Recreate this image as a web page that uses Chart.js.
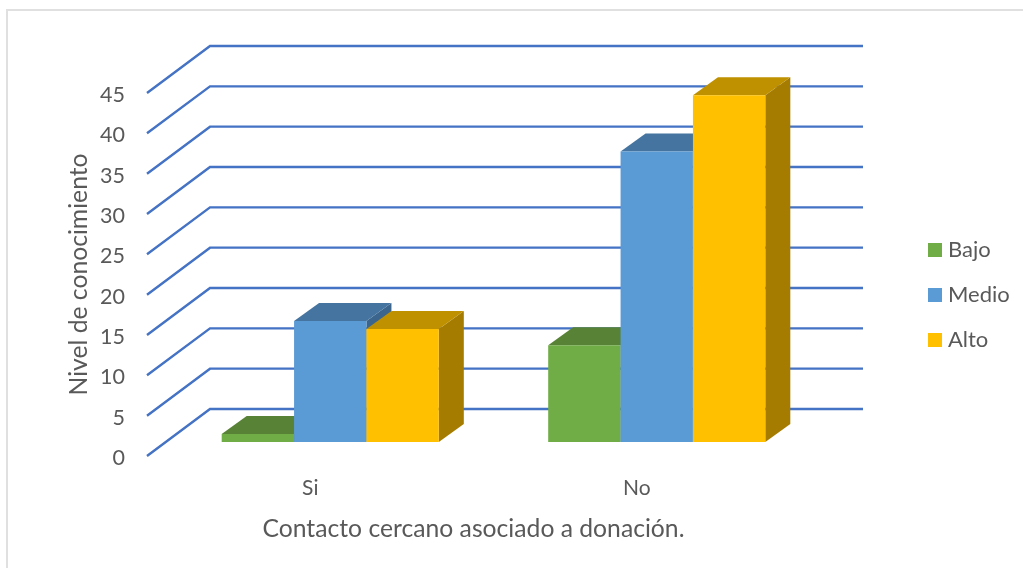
<!DOCTYPE html>
<html>
<head>
<meta charset="utf-8">
<script src="https://cdn.jsdelivr.net/npm/chart.js@4"></script>
<style>
  html, body { margin: 0; background: #fff; overflow: hidden; }
  #frame { position: absolute; left: 6px; top: 9px; width: 1100px; height: 700px; border: 2px solid #e0e0e0; }
  canvas { position: absolute; left: 0; top: 0; }
</style>
</head>
<body>
<div id="frame"></div>
<canvas id="myChart" width="1023" height="568"></canvas>
<script>
const categories = ["Si", "No"];
const bajo = [1, 12];
const medio = [15, 36];
const alto = [14, 43];

const textColor = "#595959";
const fontName = "Lato";
const gridColor = "#4472C4";

// depth of the side wall and of the bars, in pixels
const wallDepth = { x: 63, y: -47 };
const barShift = { x: 20, y: -14 };
const barDepth = { x: 25, y: -18 };

const face = (ctx, color, pts) => {
  ctx.fillStyle = color;
  ctx.beginPath();
  pts.forEach((p, i) => (i ? ctx.lineTo(p[0], p[1]) : ctx.moveTo(p[0], p[1])));
  ctx.closePath();
  ctx.fill();
};

const swatch = (color) => {
  const c = document.createElement("canvas");
  c.width = 14;
  c.height = 14;
  const g = c.getContext("2d");
  g.fillStyle = color;
  g.fillRect(0, 0, 14, 14);
  return c;
};

const fake3d = {
  id: "fake3d",
  afterLayout(chart) {
    // legend sits right of the back wall
    const lg = chart.legend;
    lg.left = 910;
    lg.right = 1023;
    lg.top = 208;
    lg.bottom = 382;
  },
  beforeDatasetsDraw(chart) {
    const { ctx, scales: { x, y } } = chart;
    ctx.save();
    ctx.strokeStyle = gridColor;
    ctx.lineWidth = 2.4;
    y.ticks.forEach((t) => {
      const py = y.getPixelForValue(t.value);
      ctx.beginPath();
      ctx.moveTo(x.left, py);
      ctx.lineTo(x.left + wallDepth.x, py + wallDepth.y);
      ctx.lineTo(x.right + wallDepth.x, py + wallDepth.y);
      ctx.stroke();
    });
    ctx.restore();

    // left series first, so the later ones cover it
    chart.getSortedVisibleDatasetMetas().forEach((meta) => {
      const ds = chart.data.datasets[meta.index];
      ctx.save();
      ctx.translate(barShift.x, barShift.y);
      meta.data.forEach((bar) => {
        const l = bar.x - bar.width / 2;
        const r = bar.x + bar.width / 2;
        const dx = barDepth.x;
        const dy = barDepth.y;
        face(ctx, ds.sideColor, [[r, bar.y], [r + dx, bar.y + dy], [r + dx, bar.base + dy], [r, bar.base]]);
        face(ctx, ds.topColor, [[l, bar.y], [l + dx, bar.y + dy], [r + dx, bar.y + dy], [r, bar.y]]);
      });
      meta.controller.draw();
      ctx.restore();
    });
    return false;
  },
};

new Chart("myChart", {
  type: "bar",
  plugins: [fake3d],
  data: {
    labels: categories,
    datasets: [
      { label: "Bajo", data: bajo, backgroundColor: "#70AD47", topColor: "#588235", sideColor: "#4A6F2D" },
      { label: "Medio", data: medio, backgroundColor: "#5B9BD5", topColor: "#44749F", sideColor: "#3B658C" },
      { label: "Alto", data: alto, backgroundColor: "#FFC000", topColor: "#BF9000", sideColor: "#A67C00" },
    ],
  },
  options: {
    responsive: false,
    animation: false,
    layout: { padding: { left: 60, right: 223, top: 93, bottom: 20 } },
    datasets: { bar: { categoryPercentage: 0.665, barPercentage: 1 } },
    plugins: {
      tooltip: { enabled: false },
      legend: {
        position: "chartArea",
        labels: {
          usePointStyle: true,
          pointStyleWidth: 4,
          padding: 23,
          color: textColor,
          font: { family: fontName, size: 22 },
          generateLabels: (chart) => chart.data.datasets.map((d, i) => ({
            text: d.label,
            pointStyle: swatch(d.backgroundColor),
            fontColor: textColor,
            datasetIndex: i,
          })),
        },
      },
    },
    scales: {
      x: {
        afterFit: (s) => { s.height = 92; },
        grid: { display: false },
        border: { display: false },
        ticks: { color: textColor, padding: 12, font: { family: fontName, size: 21 } },
        title: {
          display: true,
          text: "Contacto cercano asociado a donación.",
          color: textColor,
          font: { family: fontName, size: 24.7 },
        },
      },
      y: {
        min: 0,
        max: 45,
        afterFit: (s) => { s.width = 87; },
        grid: { display: false },
        border: { display: false },
        ticks: { stepSize: 5, color: textColor, padding: 14, labelOffset: 2, font: { family: fontName, size: 21.5 } },
        title: {
          display: true,
          text: "Nivel de conocimiento",
          color: textColor,
          font: { family: fontName, size: 24.7 },
        },
      },
    },
  },
});
</script>
</body>
</html>
